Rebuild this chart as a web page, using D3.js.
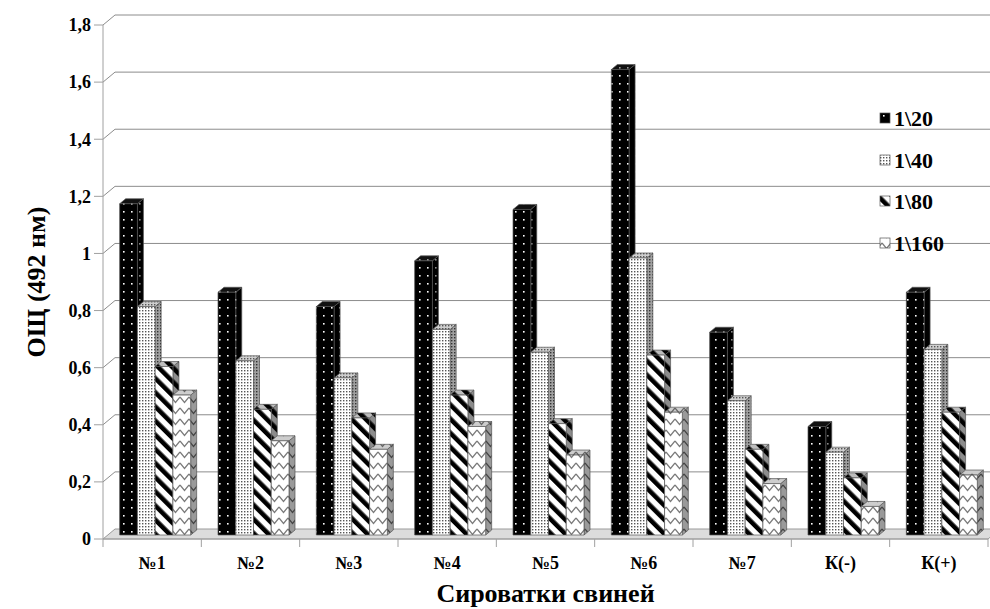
<!DOCTYPE html>
<html>
<head>
<meta charset="utf-8">
<script src="https://cdn.jsdelivr.net/npm/d3@7"></script>
<style>
  body { margin: 0; background: #fff; }
</style>
</head>
<body>
<div id="chart"></div>
<script>
// Data
const categories = ["№1", "№2", "№3", "№4", "№5", "№6", "№7", "К(-)", "К(+)"];
const series = ["1\\20", "1\\40", "1\\80", "1\\160"];
const v20  = [1.16, 0.85, 0.80, 0.96, 1.14, 1.63, 0.71, 0.38, 0.85];
const v40  = [0.80, 0.61, 0.55, 0.72, 0.64, 0.97, 0.47, 0.29, 0.65];
const v80  = [0.59, 0.44, 0.41, 0.49, 0.39, 0.63, 0.30, 0.20, 0.43];
const v160 = [0.49, 0.33, 0.30, 0.38, 0.28, 0.43, 0.18, 0.10, 0.21];
const yTicks = [0, 0.2, 0.4, 0.6, 0.8, 1, 1.2, 1.4, 1.6, 1.8];
const yTitle = "ОЩ (492 нм)";
const xTitle = "Сироватки свиней";

const values = [v20, v40, v80, v160];
const W = 990, H = 609;
const pLeft = 103, pRight = 988, pBottom = 539, pTop = 25;
const DX = 12, DY = -10;      // wall depth
const OX = 3, OY = -4;        // bar front offset
const BX = 6, BY = -5;        // bar depth
const FONT = "'Liberation Serif', 'Times New Roman', Tinos, 'DejaVu Serif', serif";

const svg = d3.select("#chart").append("svg")
    .attr("width", W).attr("height", H)
    .style("font-family", FONT).attr("font-weight", "bold");

const x = d3.scaleBand().domain(categories).range([pLeft, pRight]);
const half = 35.5;
const xs = d3.scaleBand().domain(series)
    .range([x.bandwidth() / 2 - half, x.bandwidth() / 2 + half]);
const y = d3.scaleLinear().domain([0, 1.8]).range([pBottom, pTop]);

// Patterns
const defs = svg.append("defs");
function pat(id, w, h, bg, draw, transform) {
    const p = defs.append("pattern").attr("id", id)
        .attr("patternUnits", "userSpaceOnUse")
        .attr("width", w).attr("height", h);
    if (transform) p.attr("patternTransform", transform);
    p.append("rect").attr("width", w).attr("height", h).attr("fill", bg);
    draw(p);
}
// 1\20 - black with white dots
const dots20 = (c) => (p) => p.append("rect").attr("x", 3).attr("y", 3)
    .attr("width", 1.6).attr("height", 1.6).attr("fill", c);
pat("s0f", 8, 8, "#000", dots20("#fff"));
pat("s0s", 8, 8, "#000", dots20("#8a8a8a"));
pat("s0t", 8, 8, "#111", dots20("#999"));
// 1\40 - fine dotted
const dots40 = (c) => (p) => p.append("rect").attr("x", 1).attr("y", 1)
    .attr("width", 1.4).attr("height", 1.4).attr("fill", c);
pat("s1f", 3, 3, "#fff", dots40("#555"));
pat("s1s", 3, 3, "#a0a0a0", dots40("#333"));
pat("s1t", 3, 3, "#cfcfcf", dots40("#555"));
// 1\80 - wide downward diagonal
const stripes = (p) => p.append("rect").attr("width", 4.6).attr("height", 10).attr("fill", "#000");
pat("s2f", 10, 10, "#fff", stripes, "rotate(-45)");
pat("s2s", 10, 10, "#8c8c8c", stripes, "rotate(-45)");
pat("s2t", 10, 10, "#bdbdbd", stripes, "rotate(-45)");
// 1\160 - zigzag
const zig = (c) => (p) => p.append("path").attr("d", "M0,1 L4.5,6.5 L9,1")
    .attr("fill", "none").attr("stroke", c).attr("stroke-width", 1.2);
pat("s3f", 9, 11, "#fff", zig("#7a7a7a"));
pat("s3s", 9, 11, "#9a9a9a", zig("#444"));
pat("s3t", 9, 11, "#cdcdcd", zig("#666"));

// Gridlines on the back wall
yTicks.forEach(t => {
    if (t === 0) return;
    const yy = y(t);
    svg.append("path")
        .attr("d", `M${pLeft},${yy} L${pLeft + DX},${yy + DY} L${W},${yy + DY}`)
        .attr("fill", "none").attr("stroke", "#8c8c8c").attr("stroke-width", 1);
});

// Floor
svg.append("path")
    .attr("d", `M${pLeft},${pBottom} L${pRight},${pBottom} L${pRight + DX},${pBottom + DY} L${pLeft + DX},${pBottom + DY} Z`)
    .attr("fill", "#dcdcdc").attr("stroke", "#9a9a9a").attr("stroke-width", 1);

// Y axis (front)
svg.append("line").attr("x1", pLeft).attr("x2", pLeft).attr("y1", pTop).attr("y2", pBottom)
    .attr("stroke", "#a0a0a0");
const yAxis = svg.append("g");
yTicks.forEach(t => {
    const yy = y(t);
    yAxis.append("line").attr("x1", pLeft - 9).attr("x2", pLeft).attr("y1", yy).attr("y2", yy)
        .attr("stroke", "#a0a0a0");
    yAxis.append("text").attr("x", pLeft - 12).attr("y", yy).attr("dy", "0.35em")
        .attr("text-anchor", "end").attr("font-size", 18)
        .text(String(t).replace(".", ","));
});

// X axis ticks
svg.append("line").attr("x1", pLeft).attr("x2", pRight).attr("y1", pBottom).attr("y2", pBottom)
    .attr("stroke", "#a0a0a0");
categories.forEach((c, i) => {
    const xx = x(c);
    svg.append("line").attr("x1", xx).attr("x2", xx).attr("y1", pBottom).attr("y2", pBottom + 8)
        .attr("stroke", "#a0a0a0");
    svg.append("text").attr("x", xx + x.bandwidth() / 2).attr("y", 563).attr("dy", "0.35em")
        .attr("text-anchor", "middle").attr("font-size", 18).text(c);
});
svg.append("line").attr("x1", pRight).attr("x2", pRight).attr("y1", pBottom).attr("y2", pBottom + 8)
    .attr("stroke", "#a0a0a0");

// Bars
const bars = svg.append("g");
categories.forEach((c, i) => {
    series.forEach((s, k) => {
        const v = values[k][i];
        const x0 = x(c) + xs(s) + OX;
        const x1 = x0 + xs.bandwidth();
        const y0 = y(0) + OY;
        const y1 = y(v) + OY;
        const g = bars.append("g").attr("stroke", "#555").attr("stroke-width", 0.7)
            .attr("stroke-linejoin", "round");
        g.append("path")
            .attr("d", `M${x1},${y0} L${x1 + BX},${y0 + BY} L${x1 + BX},${y1 + BY} L${x1},${y1} Z`)
            .attr("fill", `url(#s${k}s)`);
        g.append("path")
            .attr("d", `M${x0},${y1} L${x1},${y1} L${x1 + BX},${y1 + BY} L${x0 + BX},${y1 + BY} Z`)
            .attr("fill", `url(#s${k}t)`);
        g.append("rect").attr("x", x0).attr("y", y1)
            .attr("width", x1 - x0).attr("height", y0 - y1)
            .attr("fill", `url(#s${k}f)`);
    });
});

// Legend
const legendY = [118, 160, 201, 243];
series.forEach((s, k) => {
    svg.append("rect").attr("x", 880).attr("y", legendY[k] - 5)
        .attr("width", 10).attr("height", 10)
        .attr("fill", `url(#s${k}f)`).attr("stroke", "#555").attr("stroke-width", 0.7);
    svg.append("text").attr("x", 894).attr("y", legendY[k]).attr("dy", "0.35em")
        .attr("font-size", 22).text(s);
});

// Titles
svg.append("text")
    .attr("transform", `translate(36,282) rotate(-90)`)
    .attr("text-anchor", "middle").attr("dy", "0.35em")
    .attr("font-size", 26).text(yTitle);
svg.append("text").attr("x", (pLeft + pRight) / 2).attr("y", 593).attr("dy", "0.35em")
    .attr("text-anchor", "middle").attr("font-size", 26).text(xTitle);
</script>
</body>
</html>
